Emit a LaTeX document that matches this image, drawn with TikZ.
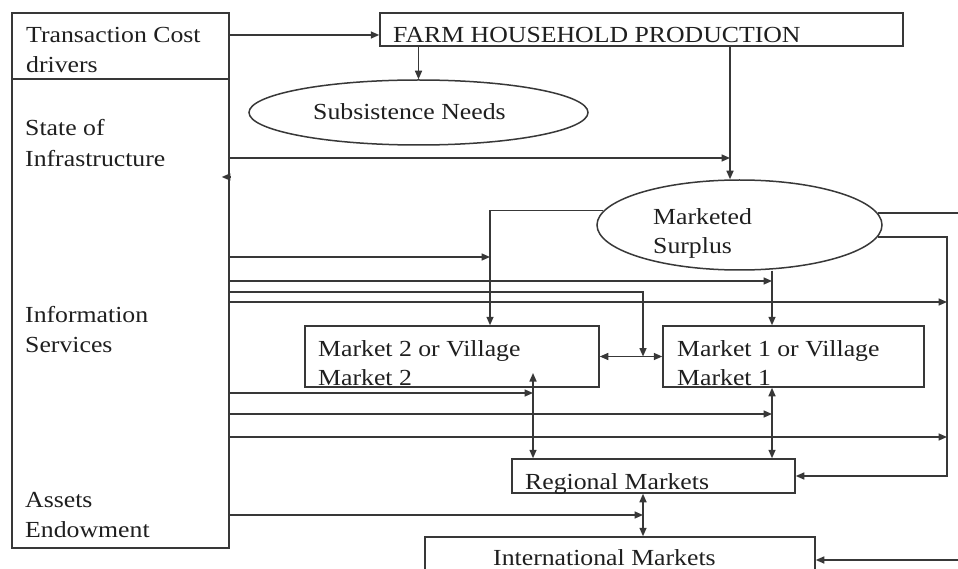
\documentclass[tikz,border=0pt]{standalone}
\usepackage{fontspec}
\setmainfont{Liberation Serif}[FakeStretch=1.12]
\usetikzlibrary{arrows.meta,shapes.geometric}
\begin{document}
\begin{tikzpicture}[x=1pt,y=-1pt,
  ln/.style={line width=1.5pt,draw=black!78},
  arr/.style={ln,-{Triangle[length=8.5pt,width=7pt]}},
  darr/.style={ln,{Triangle[length=8.5pt,width=7pt]}-{Triangle[length=8.5pt,width=7pt]}},
  box/.style={ln,rectangle,inner sep=0pt},
  oval/.style={ln,ellipse,inner sep=0pt},
  lbl/.style={inner sep=0pt,anchor=base west,text=black!88,font=\fontsize{23}{30}\selectfont}]
\useasboundingbox[fill=white] (0,0) rectangle (958,569);
% helper columns
\coordinate (c490) at (490,0);
\coordinate (c533) at (533,0);
\coordinate (c643) at (643,0);
\coordinate (c730) at (730,0);
\coordinate (c772) at (772,0);
\coordinate (c947) at (947,0);
\coordinate (redge) at (958,0);
% shapes
\node[box,minimum width=217pt,minimum height=535pt] (lb) at (120.5,280.5) {};
\draw[ln] (lb.west |- 0,79) -- (lb.east |- 0,79);
\node[box,minimum width=523pt,minimum height=33pt] (farm) at (641.5,29.5) {};
\node[oval,minimum width=339pt,minimum height=65pt] (sub) at (418.5,112.5) {};
\node[oval,minimum width=285pt,minimum height=90pt] (ms) at (739.5,225) {};
\node[box,minimum width=294pt,minimum height=61pt] (m2) at (452,356.5) {};
\node[box,minimum width=261pt,minimum height=61pt] (m1) at (793.5,356.5) {};
\node[box,minimum width=283pt,minimum height=34pt] (reg) at (653.5,476) {};
\node[box,minimum width=390pt,minimum height=63pt] (int) at (620,568.5) {};
% texts
\node[lbl] (t1) at (26,43) {Transaction Cost};
\node[lbl] (t2) at (26,73) {drivers};
\node[lbl] (t3) at (25,136) {State of};
\node[lbl] (t4) at (25,167) {Infrastructure};
\node[lbl] (t5) at (25,322) {Information};
\node[lbl] (t6) at (25,352) {Services};
\node[lbl] (t7) at (25,507) {Assets};
\node[lbl] (t8) at (25,537) {Endowment};
\node[lbl] (tf) at (393,43) {FARM HOUSEHOLD PRODUCTION};
\node[lbl] (ts) at (313,120) {Subsistence Needs};
\node[lbl] (tm1) at (653,225) {Marketed};
\node[lbl] (tm2) at (653,254) {Surplus};
\node[lbl] (tk1) at (318,356) {Market 2 or Village};
\node[lbl] (tk2) at (318,385) {Market 2};
\node[lbl] (tl1) at (677,356) {Market 1 or Village};
\node[lbl] (tl2) at (677,385) {Market 1};
\node[lbl] (tr) at (525,489) {Regional Markets};
\node[lbl] (ti) at (493,565) {International Markets};
% connectors
\draw[arr] (lb.east |- 0,35) -- (farm.west |- 0,35);
\draw[arr] (sub.north |- farm.south) -- (sub.north);
\draw[arr] (farm.south -| c730) -- (ms.north -| c730);
\draw[arr] (lb.east |- 0,158) -- (c730 |- 0,158);
\draw[arr] (lb.east |- 0,177) -- ([xshift=-8pt]lb.east |- 0,177);
\draw[arr] (ms.174) -| (m2.north -| c490);
\draw[ln] (ms.5) -- (ms.5 -| redge);
\draw[arr] (ms.-5) -| (c947 |- reg.east) -- (reg.east);
\draw[arr] (c772 |- ms.south) -- (c772 |- m1.north);
\draw[arr] (lb.east |- 0,257) -- (c490 |- 0,257);
\draw[arr] (lb.east |- 0,281) -- (c772 |- 0,281);
\draw[arr] (lb.east |- 0,292) -| (c643 |- m2.east);
\draw[arr] (lb.east |- 0,302) -- (c947 |- 0,302);
\draw[darr] (m2.east) -- (m1.west);
\draw[arr] (lb.east |- 0,393) -- (c533 |- 0,393);
\draw[arr] (lb.east |- 0,414) -- (c772 |- 0,414);
\draw[arr] (lb.east |- 0,437) -- (c947 |- 0,437);
\draw[arr] (lb.east |- 0,515) -- (c643 |- 0,515);
\draw[darr] (c533 |- 0,373) -- (c533 |- reg.north);
\draw[darr] (c772 |- m1.south) -- (c772 |- reg.north);
\draw[darr] (c643 |- reg.south) -- (c643 |- int.north);
\draw[arr] (redge |- 0,560) -- (int.east |- 0,560);
\end{tikzpicture}
\end{document}
